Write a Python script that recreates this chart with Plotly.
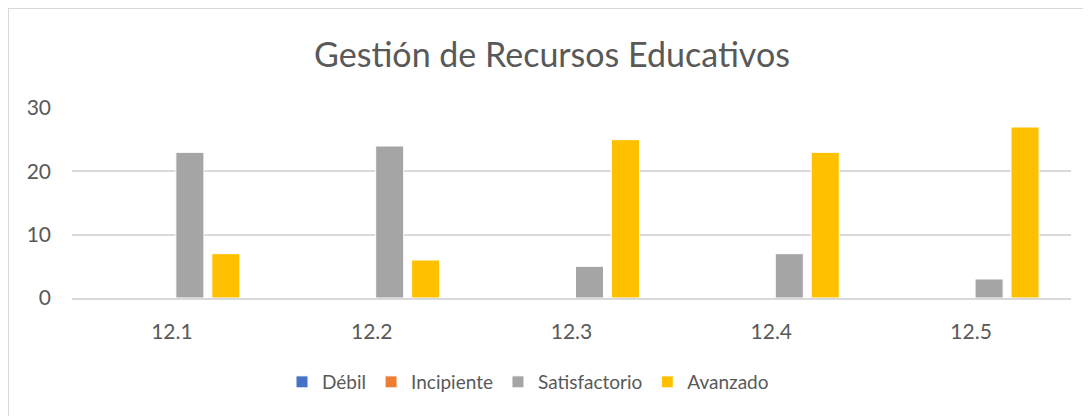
import plotly.graph_objects as go

categories = ["12.1", "12.2", "12.3", "12.4", "12.5"]
debil = [0, 0, 0, 0, 0]
incipiente = [0, 0, 0, 0, 0]
satisfactorio = [23, 24, 5, 7, 3]
avanzado = [7, 6, 25, 23, 27]

series = [
    ("Débil", debil, "#4472C4"),
    ("Incipiente", incipiente, "#ED7D31"),
    ("Satisfactorio", satisfactorio, "#A5A5A5"),
    ("Avanzado", avanzado, "#FFC000"),
]

font_family = "Lato, 'Open Sans', sans-serif"
grey_text = "#595959"

# page has an 8px body margin, so the figure is sized to fill the rest
W, H = 1083, 408
L, R, T, B = 64, 20, 100, 118
plot_h = H - T - B

fig = go.Figure()
for name, values, color in series:
    fig.add_trace(
        go.Bar(
            x=categories,
            y=values,
            name=name,
            marker=dict(color=color, line=dict(color="white", width=1)),
        )
    )

fig.update_layout(
    width=W,
    height=H,
    margin=dict(l=L, r=R, t=T, b=B),
    paper_bgcolor="white",
    plot_bgcolor="white",
    barmode="group",
    bargap=0.28,
    bargroupgap=0.22,
    font=dict(family=font_family, color=grey_text, size=19),
    title=dict(
        text="Gestión de Recursos Educativos",
        x=(552 - 8) / W,
        xanchor="center",
        y=1 - 47 / H,
        yanchor="middle",
        font=dict(size=34, color=grey_text),
    ),
    legend=dict(
        orientation="h",
        x=(528 - 8 - L) / (W - L - R),
        xanchor="center",
        y=-(374 - (H - B)) / plot_h,
        yanchor="middle",
        font=dict(size=19),
        itemwidth=30,
        tracegroupgap=0,
    ),
    xaxis=dict(
        showgrid=False,
        showline=True,
        linecolor="#d9d9d9",
        linewidth=1.5,
        ticks="",
        ticklabelstandoff=14,
        tickfont=dict(size=21),
    ),
    yaxis=dict(
        range=[0, 30],
        tickvals=[0, 10, 20, 30],
        showgrid=True,
        gridcolor="#d9d9d9",
        gridwidth=1.5,
        zeroline=False,
        ticks="",
        ticklabelstandoff=20,
        tickfont=dict(size=21),
    ),
    shapes=[
        dict(
            type="rect",
            xref="paper",
            yref="paper",
            x0=-L / (W - L - R),
            x1=1.05,
            y0=-0.8,
            y1=(H - B) / plot_h,
            line=dict(color="#d9d9d9", width=2),
            layer="below",
        )
    ],
)

fig.write_html("out.html")
